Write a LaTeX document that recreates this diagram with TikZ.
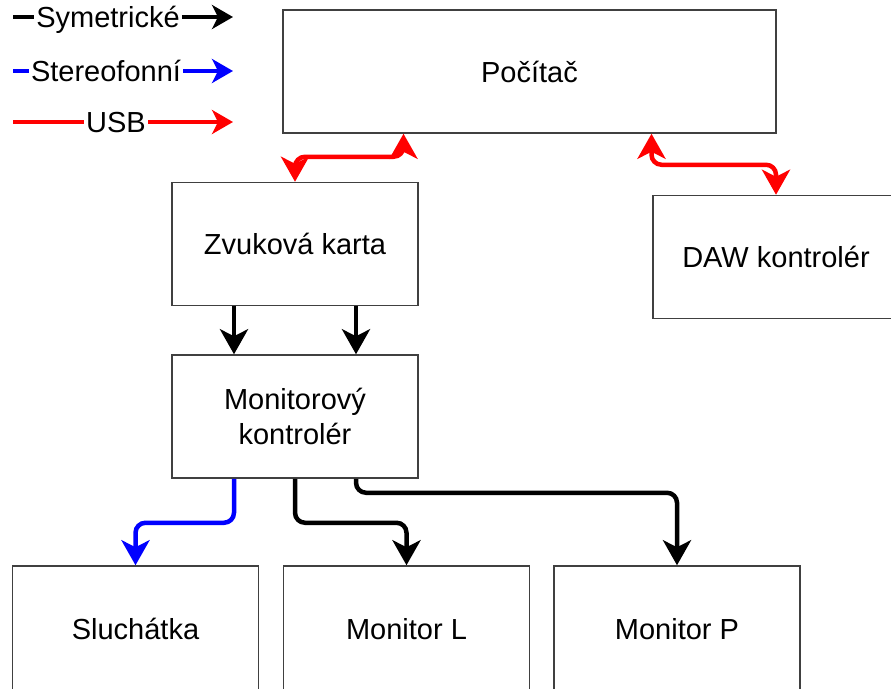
\documentclass[tikz,border=0pt]{standalone}
\usepackage{fontspec}
\setmainfont{Liberation Sans}
\usetikzlibrary{arrows.meta}
\begin{document}
\begin{tikzpicture}[x=1pt,y=-1pt,
  every node/.style={font=\fontsize{29}{35}\selectfont},
  box/.style={draw=black!75, line width=1.5pt, minimum width=246pt, minimum height=123pt, inner sep=0pt, align=center},
  conn/.style={line width=4.5pt, rounded corners=10pt},
  tip/.style={-{Stealth[length=25pt,width=28pt,inset=7pt]}},
  bitip/.style={{Stealth[length=25pt,width=28pt,inset=7pt]}-{Stealth[length=25pt,width=28pt,inset=7pt]}},
  legtip/.style={-{Stealth[length=21pt,width=24pt,inset=6pt]}},
  leg/.style={inner ysep=0pt, inner xsep=2pt, text height=20.8pt, text depth=0pt},
  legline/.style={line width=3.5pt},
  usbc/.style={red},
  symc/.style={black},
  stc/.style={blue}
]
\useasboundingbox (0,0) rectangle (891,688);
\clip (0,0) rectangle (891,688);

% boxes
\node[box, minimum width=493pt] (pc) at (529.5,71.5) {Počítač};
\node[box] (zk) at (295,244) {Zvuková karta};
\node[box] (daw) at (776,257) {DAW kontrolér};
\node[box] (mk) at (295,416.5) {Monitorový\\kontrolér};
\node[box, minimum height=126pt] (sl) at (135.5,629) {Sluchátka};
\node[box, minimum height=126pt] (ml) at (406.5,629) {Monitor L};
\node[box, minimum height=126pt] (mp) at (677,629) {Monitor P};

% legend
\coordinate (s1) at (13,17);
\node[leg] (t1) at (108,17) {Symetrické};
\coordinate (e1) at (233,17);
\draw[legline, symc] (s1) -- (t1.west);
\draw[legline, symc, legtip] (t1.east) -- (e1);

\coordinate (s2) at (13,71);
\node[leg] (t2) at (106,71) {Stereofonní};
\coordinate (e2) at (233,71);
\draw[legline, stc] (s2) -- (t2.west);
\draw[legline, stc, legtip] (t2.east) -- (e2);

\coordinate (s3) at (13,122);
\node[leg] (t3) at (116,122) {USB};
\coordinate (e3) at (233,122);
\draw[legline, usbc] (s3) -- (t3.west);
\draw[legline, usbc, legtip] (t3.east) -- (e3);

% USB connectors
\draw[conn, usbc, bitip] (zk.north) -- ++(0,-25) -| ([xshift=-126pt]pc.south);
\draw[conn, usbc, bitip] ([xshift=122pt]pc.south) -- ++(0,31) -| (daw.north);

% sound card to monitor controller
\draw[conn, symc, tip] ([xshift=-61pt]zk.south) -- ([xshift=-61pt]mk.north);
\draw[conn, symc, tip] ([xshift=61pt]zk.south) -- ([xshift=61pt]mk.north);

% monitor controller outputs
\draw[conn, stc, tip] ([xshift=-61pt]mk.south) -- ++(0,44) -| (sl.north);
\draw[conn, symc, tip] (mk.south) -- ++(0,44) -| (ml.north);
\draw[conn, symc, tip] ([xshift=61pt]mk.south) -- ++(0,14) -| (mp.north);
\end{tikzpicture}
\end{document}
